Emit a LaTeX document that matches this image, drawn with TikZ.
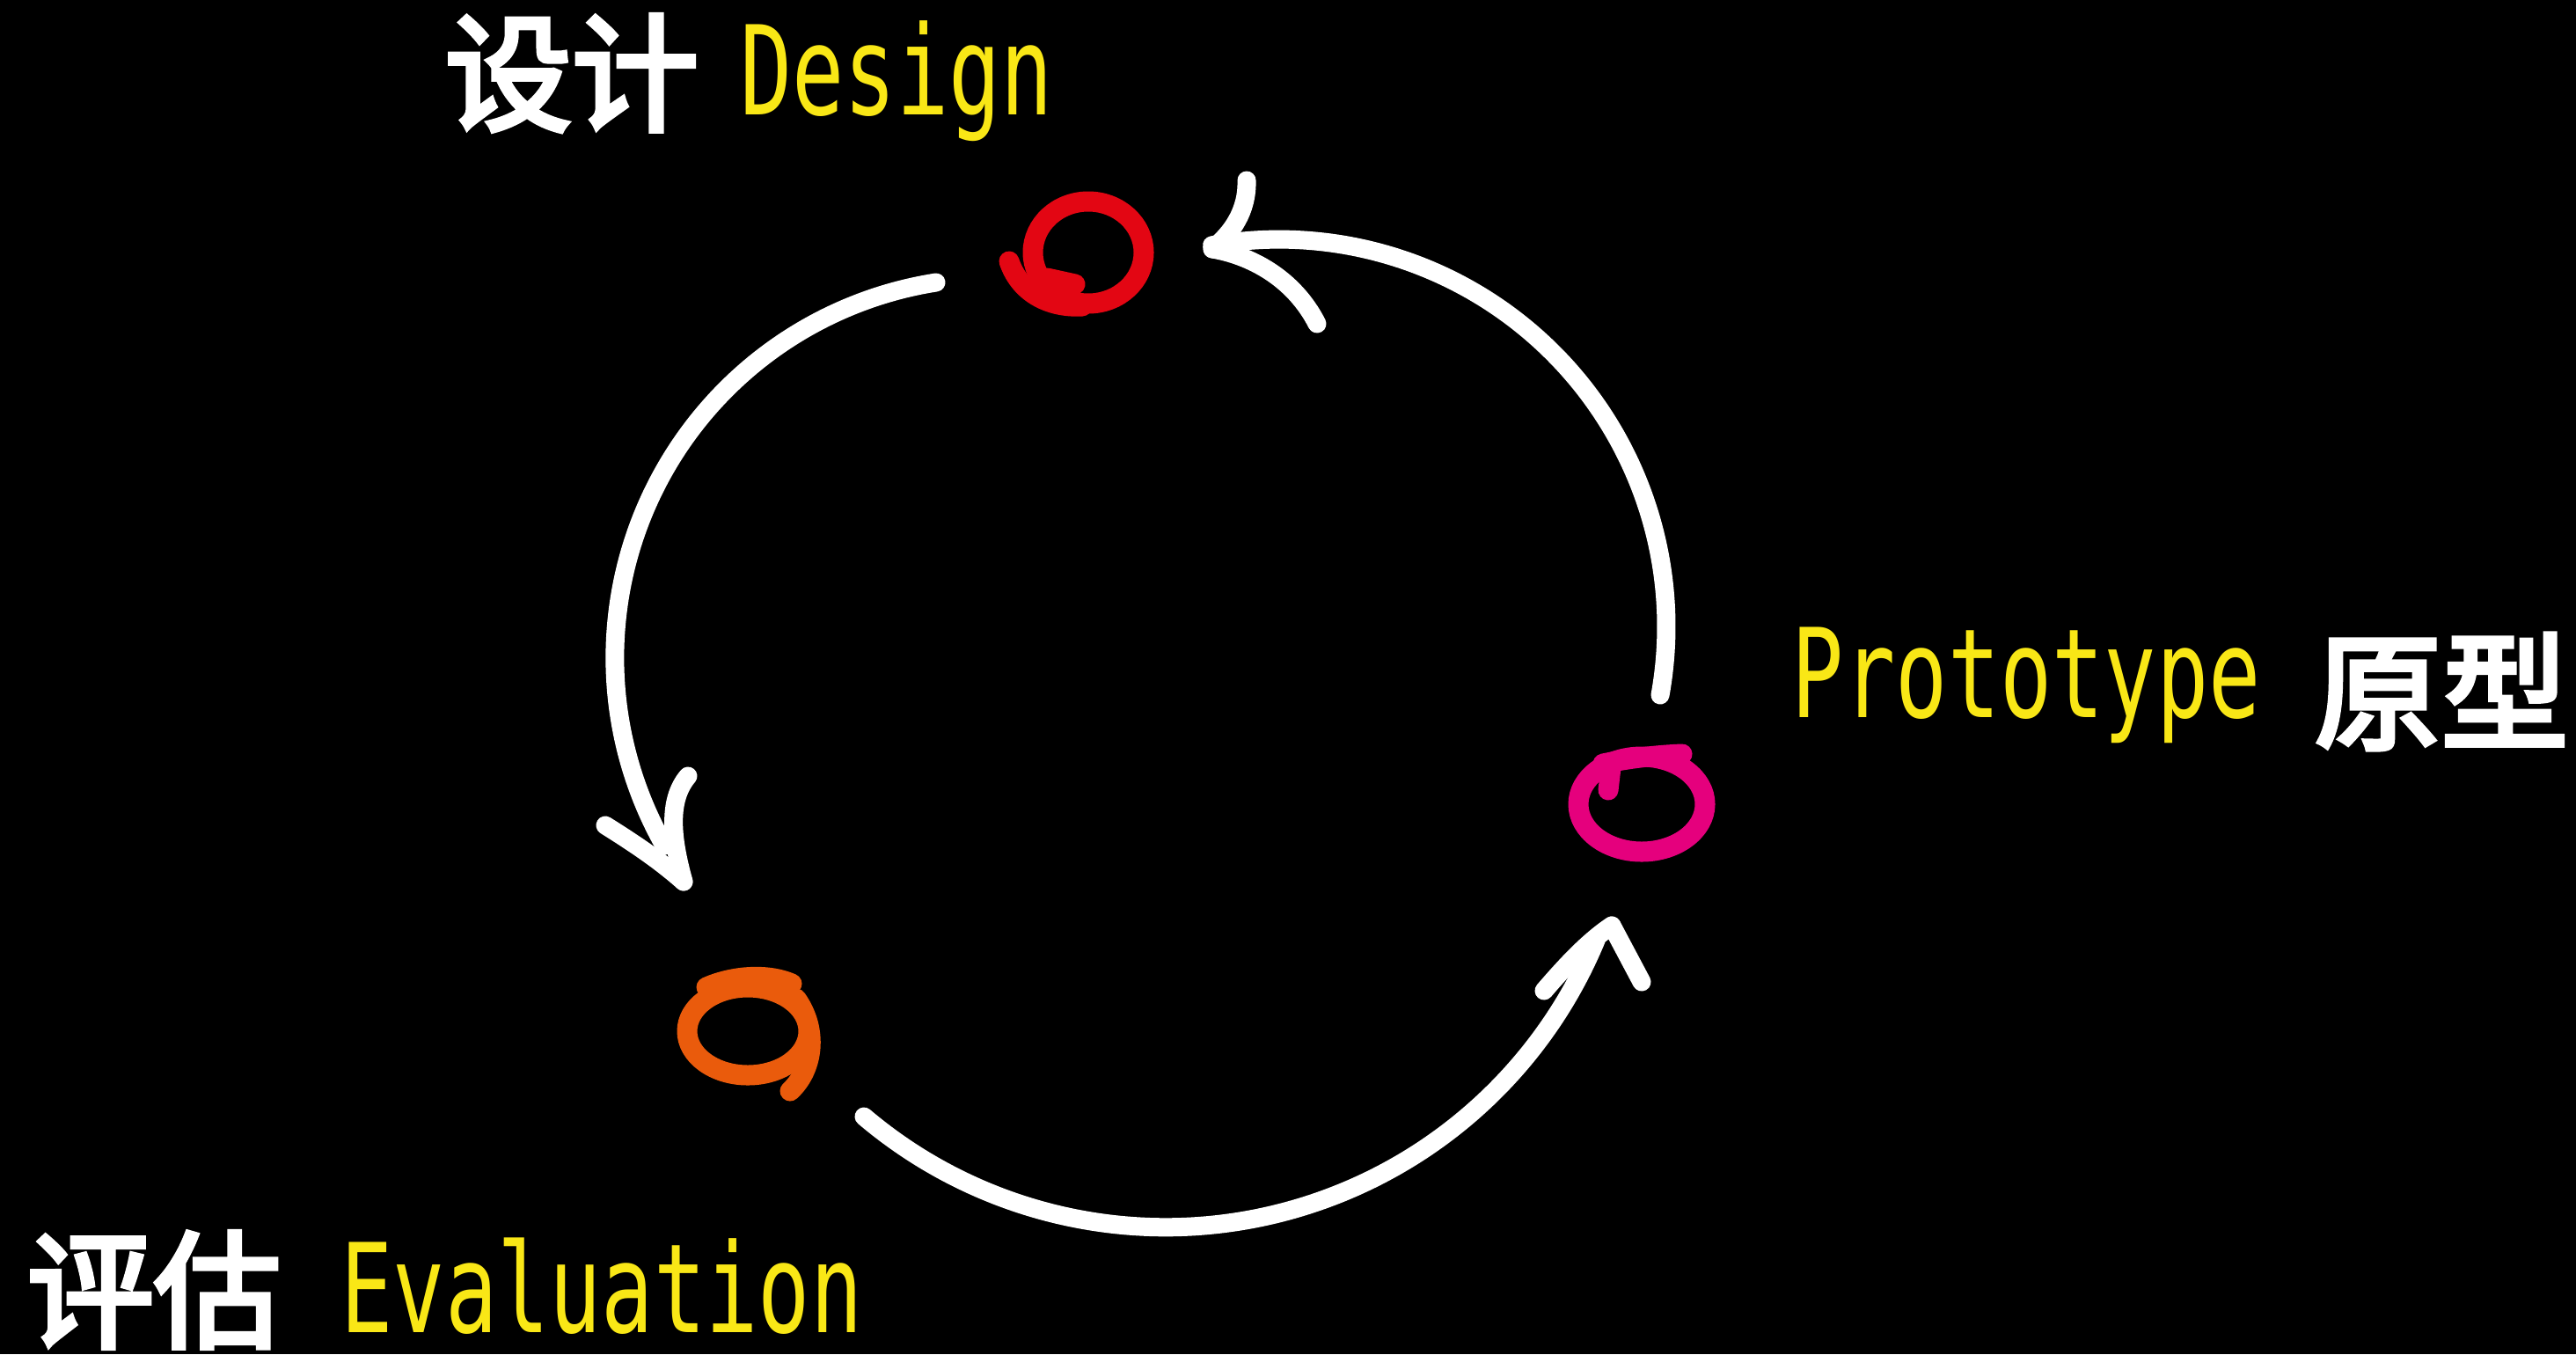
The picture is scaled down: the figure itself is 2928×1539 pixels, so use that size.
\documentclass[tikz,border=0pt]{standalone}
\usepackage{fontspec}
\newfontfamily\cjk{Noto Sans CJK SC}[FakeBold=4]
\newfontfamily\hand{DejaVu Sans Mono}[FakeStretch=0.7]
\definecolor{ringred}{RGB}{227,6,19}
\definecolor{ringpink}{RGB}{229,0,125}
\definecolor{ringorange}{RGB}{234,91,12}
\definecolor{handyellow}{RGB}{249,231,22}
\begin{document}
\begin{tikzpicture}[x=0.01cm,y=-0.01cm,
  arrowline/.style={draw=white, line width=0.21cm, line cap=round, line join=round},
  ring/.style={line width=0.23cm, line cap=round, line join=round},
  cjklabel/.style={text=white, inner sep=0pt, font=\cjk\fontsize{41pt}{41pt}\selectfont},
  handlabel/.style={text=handyellow, inner sep=0pt, anchor=base, font=\hand\fontsize{40pt}{40pt}\selectfont}]
\fill[black] (0,0) rectangle (2928,1539);
\useasboundingbox (0,0) rectangle (2928,1539);

% labels
\node[cjklabel] (designcn) at (650,83) {设计};
\node[handlabel] (designen) at (1019,130) {Design};
\node[handlabel] (protoen) at (2303,815) {Prototype};
\node[cjklabel] (protocn) at (2775,786) {原型};
\node[cjklabel] (evalcn) at (175,1466) {评估};
\node[handlabel] (evalen) at (684,1514) {Evaluation};

% rings
\coordinate (designring) at (1237,287);
\coordinate (protoring) at (1866,914);
\coordinate (evalring) at (850,1172);
\draw[ring, draw=ringred] (designring) ellipse [x radius=63, y radius=58];
\draw[ring, draw=ringred] (1147,297) .. controls (1160,335) and (1195,350) .. (1230,348);
\draw[ring, draw=ringred] (1190,316) -- (1222,323);
\draw[ring, draw=ringpink] (protoring) ellipse [x radius=72, y radius=54];
\draw[ring, draw=ringpink] (1828,898) -- (1831,872);
\draw[ring, draw=ringpink] (1822,868) .. controls (1850,862) and (1885,858) .. (1912,857);
\draw[ring, draw=ringorange] (evalring) ellipse [x radius=69, y radius=50];
\draw[ring, draw=ringorange] (803,1122) .. controls (830,1110) and (870,1105) .. (900,1118);
\draw[ring, draw=ringorange] (905,1135) .. controls (930,1170) and (925,1215) .. (898,1240);

% arc Design -> Evaluation
\coordinate (a1s) at (1064,321);
\coordinate (t1) at (777,1002);
\draw[arrowline] (a1s) arc[start angle=261.1, end angle=150.4, radius=432];
\draw[arrowline] (688,938) .. controls (720,958) and (750,978) .. (t1);
\draw[arrowline] (t1) .. controls (764,955) and (758,910) .. (782,882);

% arc Evaluation -> Prototype
\coordinate (a2s) at (982,1269);
\coordinate (t2) at (1832,1052);
\draw[arrowline] (a2s) arc[start angle=130.3, end angle=22.5, radius=530];
\draw[arrowline] (1755,1126) .. controls (1780,1097) and (1805,1070) .. (t2);
\draw[arrowline] (t2) -- (1866,1116);

% arc Prototype -> Design
\coordinate (a3s) at (1887,790);
\coordinate (t3) at (1378,283);
\draw[arrowline] (a3s) arc[start angle=10.2, end angle=-100, radius=440];
\draw[arrowline] (t3) .. controls (1400,265) and (1418,240) .. (1417,205);
\draw[arrowline] (t3) .. controls (1420,290) and (1470,315) .. (1497,368);
\end{tikzpicture}
\end{document}
